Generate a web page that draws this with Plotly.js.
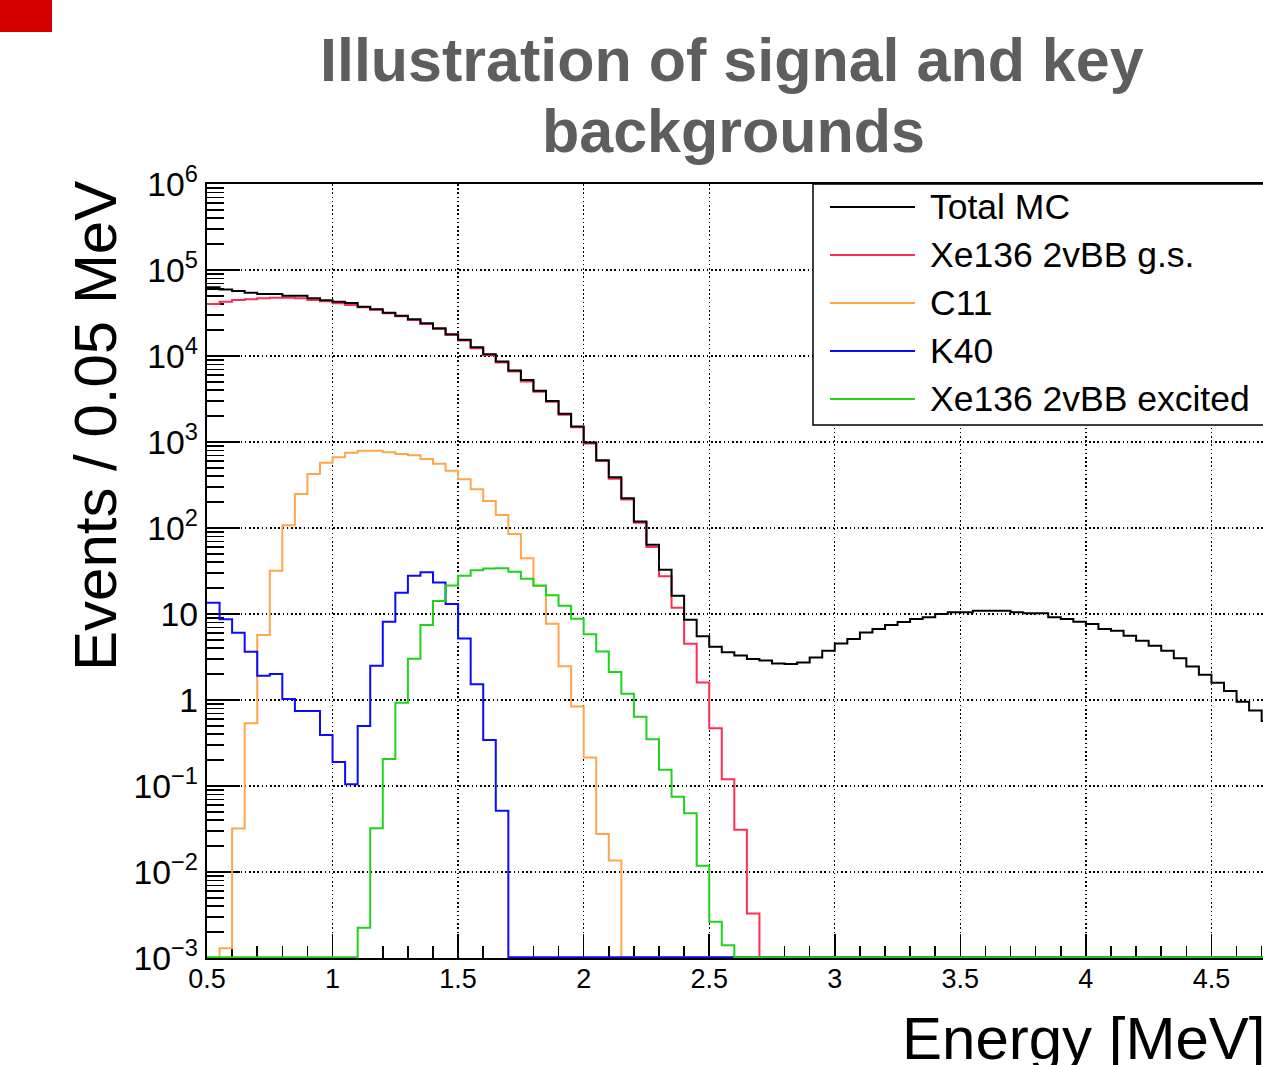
<!DOCTYPE html>
<html>
<head>
<meta charset="utf-8">
<script src="https://cdn.plot.ly/plotly-3.0.1.min.js"></script>
<style>
  html, body { margin: 0; padding: 0; overflow: hidden; background: #fff; }
  #chart { width: 1400px; height: 1065px; }
</style>
</head>
<body>
<div id="chart"></div>
<script>
// ---- data: histogram bins (0.05 MeV wide, starting at 0.5 MeV) ----
const binLow = 0.5;
const binWidth = 0.05;

const seriesNames = ['Total MC', 'Xe136 2vBB g.s.', 'C11', 'K40', 'Xe136 2vBB excited'];
const seriesColors = ['#000000', '#ff2d55', '#ffa64d', '#0a0aff', '#1ed21e'];

const totalMC = [63000, 59500, 57000, 54400, 52600, 52600, 50300, 50300, 46800, 44400,
  42600, 41200, 37500, 34900, 31900, 29400, 26700, 24000, 21000, 17900,
  15400, 12600, 10500, 8650, 6800, 5250, 3950, 3000, 2130, 1510,
  985, 615, 390, 222, 119, 64, 32.6, 16.3, 8.6, 5.5,
  4.15, 3.6, 3.3, 3.0, 2.88, 2.66, 2.62, 2.73, 3.12, 3.73,
  4.55, 5.11, 6.11, 6.68, 7.45, 8.07, 8.75, 9.15, 10.0, 10.5,
  10.5, 10.9, 10.9, 10.9, 10.5, 10.2, 10.2, 9.15, 8.75, 8.15,
  7.64, 6.68, 6.38, 5.58, 4.88, 4.27, 3.73, 3.06, 2.45, 1.96,
  1.59, 1.27, 0.957, 0.757, 0.57];

const xe136gs = [40200, 42800, 44800, 45700, 47000, 47700, 47700, 46800, 44800, 43200,
  41000, 39100, 37000, 34400, 31400, 28900, 26200, 23600, 20600, 17500,
  15100, 12300, 10200, 8400, 6600, 5050, 3850, 2930, 2080, 1480,
  960, 600, 375, 214, 115, 60, 27.5, 11.8, 4.5, 1.6,
  0.47, 0.12, 0.031, 0.0033, 0, 0, 0, 0, 0, 0,
  0, 0, 0, 0, 0, 0, 0, 0, 0, 0,
  0, 0, 0, 0, 0, 0, 0, 0, 0, 0,
  0, 0, 0, 0, 0, 0, 0, 0, 0, 0,
  0, 0, 0, 0, 0];

const c11 = [0, 0.0013, 0.032, 0.536, 5.7, 31.9, 108, 248, 425, 575,
  664, 751, 793, 793, 758, 725, 700, 634, 560, 464,
  368, 282, 206, 142, 85, 44.4, 21.2, 7.7, 2.47, 0.84,
  0.215, 0.0277, 0.0136, 0, 0, 0, 0, 0, 0, 0,
  0, 0, 0, 0, 0, 0, 0, 0, 0, 0,
  0, 0, 0, 0, 0, 0, 0, 0, 0, 0,
  0, 0, 0, 0, 0, 0, 0, 0, 0, 0,
  0, 0, 0, 0, 0, 0, 0, 0, 0, 0,
  0, 0, 0, 0, 0];

const k40 = [13.5, 8.7, 6.07, 3.65, 1.92, 2.0, 1.03, 0.745, 0.745, 0.392,
  0.19, 0.105, 0.499, 2.5, 8.14, 17.7, 27.9, 30.5, 23.3, 13.1,
  5.2, 1.52, 0.343, 0.0516, 0, 0, 0, 0, 0, 0,
  0, 0, 0, 0, 0, 0, 0, 0, 0, 0,
  0, 0, 0, 0, 0, 0, 0, 0, 0, 0,
  0, 0, 0, 0, 0, 0, 0, 0, 0, 0,
  0, 0, 0, 0, 0, 0, 0, 0, 0, 0,
  0, 0, 0, 0, 0, 0, 0, 0, 0, 0,
  0, 0, 0, 0, 0];

const xe136ex = [0, 0, 0, 0, 0, 0, 0, 0, 0, 0,
  0, 0, 0.00225, 0.0322, 0.206, 0.93, 3.02, 7.45, 14.2, 21.5,
  27.9, 32.2, 33.8, 34.0, 31.0, 25.7, 21.5, 16.5, 12.5, 8.8,
  5.8, 3.67, 2.11, 1.18, 0.637, 0.35, 0.155, 0.075, 0.0482, 0.0118,
  0.00264, 0.00141, 0, 0, 0, 0, 0, 0, 0, 0,
  0, 0, 0, 0, 0, 0, 0, 0, 0, 0,
  0, 0, 0, 0, 0, 0, 0, 0, 0, 0,
  0, 0, 0, 0, 0, 0, 0, 0, 0, 0,
  0, 0, 0, 0, 0];

const titleLines = ['Illustration of signal and key', 'backgrounds'];
const xTitle = 'Energy [MeV]';
const yTitle = 'Events / 0.05 MeV';

// ---- layout geometry ----
const W = 1400, H = 1065;
const ML = 207, MR = 63, MT = 184, MB = 107;
const PW = W - ML - MR, PH = H - MT - MB;
const px = v => (v - ML) / PW;
const py = v => (H - MB - v) / PH;

// zero bins sit on the frame floor, like ROOT draws them
const FLOOR = 1.02e-3;
function stepTrace(vals, name, color) {
  const x = [], y = [];
  for (let i = 0; i < vals.length; i++) {
    x.push(binLow + i * binWidth);
    y.push(vals[i] > 0 ? vals[i] : FLOOR);
  }
  x.push(binLow + vals.length * binWidth);
  y.push(vals[vals.length - 1] > 0 ? vals[vals.length - 1] : FLOOR);
  return { type: 'scatter', mode: 'lines', name: name, x: x, y: y,
    line: { shape: 'hv', color: color, width: 2 }, hoverinfo: 'x+y+name' };
}

const allSeries = [totalMC, xe136gs, c11, k40, xe136ex];
const drawOrder = [1, 0, 2, 3, 4];
const traces = drawOrder.map(i => stepTrace(allSeries[i], seriesNames[i], seriesColors[i]));

const FONT = 'Liberation Sans, Arial, Helvetica, sans-serif';

const shapes = [
  // red slide marker, top left
  { type: 'rect', xref: 'paper', yref: 'paper', x0: px(0), x1: px(52), y0: py(32), y1: py(0),
    fillcolor: '#d40000', line: { width: 0 } },
  // legend box
  { type: 'rect', xref: 'paper', yref: 'paper', x0: px(813), x1: px(1336), y0: py(425), y1: py(184),
    fillcolor: '#ffffff', line: { color: '#000', width: 1.5 } }
];
const legendY = [207, 255, 303, 351, 399];
const annotations = [];
seriesNames.forEach((n, i) => {
  shapes.push({ type: 'line', xref: 'paper', yref: 'paper', x0: px(830), x1: px(915),
    y0: py(legendY[i]), y1: py(legendY[i]), line: { color: seriesColors[i], width: 2 } });
  annotations.push({ xref: 'paper', yref: 'paper', x: px(928), y: py(legendY[i]),
    xanchor: 'left', yanchor: 'middle', showarrow: false, text: n,
    font: { family: FONT, size: 35.5, color: '#000' } });
});

annotations.push({ xref: 'paper', yref: 'paper', x: px(732), y: py(60), xanchor: 'center', yanchor: 'middle',
  showarrow: false, text: '<b>' + titleLines[0] + '</b>',
  font: { family: FONT, size: 61, color: '#5e5e5e' } });
annotations.push({ xref: 'paper', yref: 'paper', x: px(733), y: py(131), xanchor: 'center', yanchor: 'middle',
  showarrow: false, text: '<b>' + titleLines[1] + '</b>',
  font: { family: FONT, size: 61, color: '#5e5e5e' } });
annotations.push({ xref: 'paper', yref: 'paper', x: px(900), y: py(1038), xanchor: 'left', yanchor: 'middle',
  showarrow: false, text: xTitle, font: { family: FONT, size: 60, color: '#000' } });
annotations.push({ xref: 'paper', yref: 'paper', x: px(95), y: py(426), xanchor: 'center', yanchor: 'middle',
  showarrow: false, textangle: -90, text: yTitle, font: { family: FONT, size: 60, color: '#000' } });

const axisCommon = {
  ticks: 'inside', tickwidth: 1.5, tickcolor: '#000',
  showline: true, linecolor: '#000', linewidth: 1.6, mirror: true,
  showgrid: true, gridcolor: '#000', gridwidth: 1.3, griddash: '1.5px,2.7px',
  zeroline: false, tickfont: { family: FONT, size: 27, color: '#000' },
  layer: 'below traces'
};

const layout = {
  width: W, height: H,
  margin: { l: ML, r: MR, t: MT, b: MB, pad: 0 },
  paper_bgcolor: '#fff', plot_bgcolor: '#fff',
  showlegend: false,
  xaxis: Object.assign({}, axisCommon, {
    range: [0.5, 5.0], tick0: 0.5, dtick: 0.5, ticklen: 24, ticklabelstandoff: -4,
    minor: { dtick: 0.1, ticks: 'inside', ticklen: 12, tickwidth: 1.5, tickcolor: '#000', showgrid: false }
  }),
  yaxis: Object.assign({}, axisCommon, {
    type: 'log', range: [-3, 6], tick0: 0, dtick: 1, exponentformat: 'power', ticklen: 33,
    ticklabelstandoff: 2,
    minor: { dtick: 'D1', ticks: 'inside', ticklen: 17, tickwidth: 1.5, tickcolor: '#000', showgrid: false }
  }),
  shapes: shapes,
  annotations: annotations
};

Plotly.newPlot('chart', traces, layout, { displayModeBar: false, staticPlot: true });
</script>
</body>
</html>
